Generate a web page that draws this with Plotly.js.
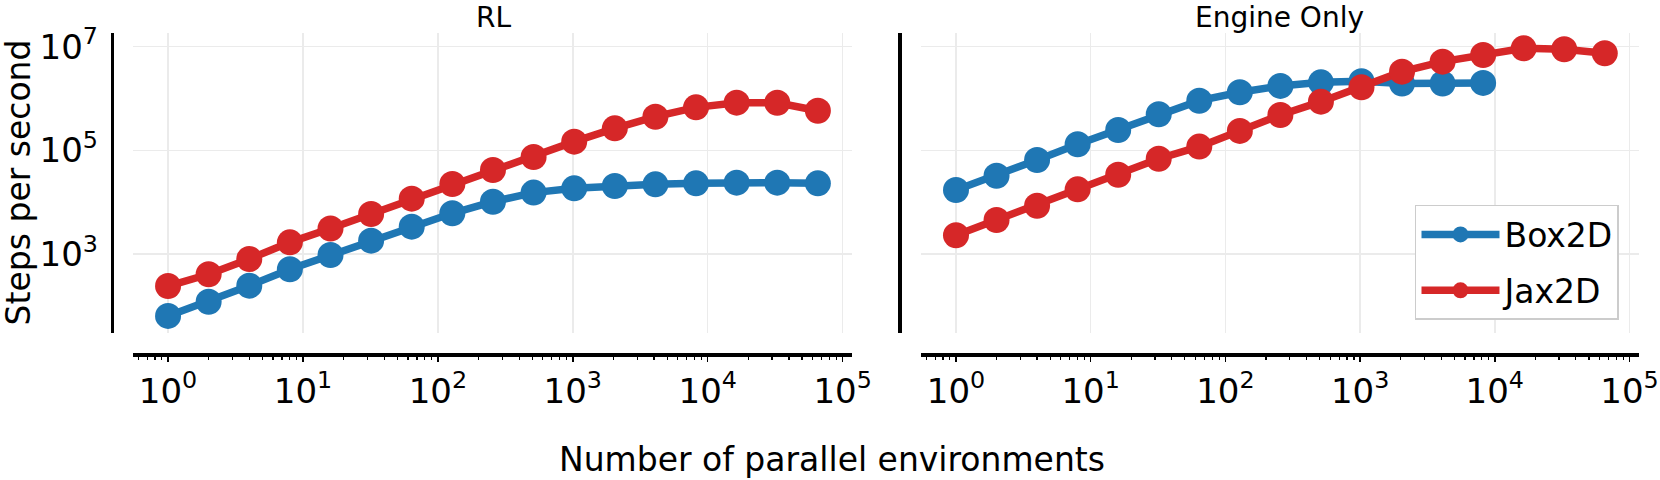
<!DOCTYPE html>
<html><head><meta charset="utf-8">
<script src="https://cdn.plot.ly/plotly-3.0.1.min.js"></script>
<style>html,body{margin:0;padding:0;background:#fff}#chart{width:1660px;height:480px}</style>
</head><body><div id="chart"></div><script>
// Number of parallel environments (powers of two)
const envs = [1,2,4,8,16,32,64,128,256,512,1024,2048,4096,8192,16384,32768,65536];
const envsBox2dEngine = [1,2,4,8,16,32,64,128,256,512,1024,2048,4096,8192];
// Steps per second
const rlBox2d = [64,120,245,507,957,1810,3370,6100,10200,15300,18500,20500,22100,23100,23800,23800,23100];
const rlJax2d = [241,406,802,1680,3100,5900,11700,22400,41800,74400,147000,266000,446000,676000,832000,830000,582000];
const engineBox2d = [17200,32400,65100,131000,247000,497000,908000,1320000,1750000,2050000,2150000,1950000,1950000,2000000];
const engineJax2d = [2300,4530,8550,17700,33900,69000,118000,237000,482000,869000,1650000,3300000,5140000,6920000,9300000,8900000,7460000];
const seriesNames = ['Box2D','Jax2D'];
const panelTitles = ['RL','Engine Only'];
const xTitle = 'Number of parallel environments';
const yTitle = 'Steps per second';
const xTickVals = [1,10,100,1000,10000,100000];
const xTickText = ['10<sup>0</sup>','10<sup>1</sup>','10<sup>2</sup>','10<sup>3</sup>','10<sup>4</sup>','10<sup>5</sup>'];
const yTickVals = [1e3,1e5,1e7];
const yTickText = ['10<sup>3</sup>','10<sup>5</sup>','10<sup>7</sup>'];

const BLUE = '#1f77b4', RED = '#d62728';
const FONT = 'DejaVu Sans, sans-serif';

function tr(x, y, name, color, xa, ya, show) {
  return {x: x, y: y, name: name, type: 'scatter', mode: 'lines+markers',
    xaxis: xa, yaxis: ya, showlegend: show, legendgroup: name,
    line: {color: color, width: 7.5}, marker: {color: color, size: 26}, cliponaxis: false};
}
const data = [
  tr(envs, rlBox2d, seriesNames[0], BLUE, 'x', 'y', false),
  tr(envs, rlJax2d, seriesNames[1], RED, 'x', 'y', false),
  tr(envsBox2dEngine, engineBox2d, seriesNames[0], BLUE, 'x2', 'y2', true),
  tr(envs, engineJax2d, seriesNames[1], RED, 'x2', 'y2', true)
];

function xax(dom) {
  return {type: 'log', domain: dom, range: [-0.26, 5.07], anchor: 'free', position: 0.261,
    showline: true, linecolor: '#000', linewidth: 4,
    ticks: 'outside', ticklen: 5, tickwidth: 1.5, tickcolor: '#000',
    tickmode: 'array', tickvals: xTickVals, ticktext: xTickText,
    tickfont: {size: 34, color: '#000', family: FONT},
    showgrid: true, gridcolor: '#ebebeb', gridwidth: 1.5, zeroline: false,
    minor: {dtick: 'D1', ticks: 'outside', ticklen: 3, tickwidth: 1.2, tickcolor: '#000', showgrid: false}};
}
function yax(pos, labels) {
  return {type: 'log', domain: [0.30625, 0.93125], range: [1.476, 7.264], anchor: 'free', position: pos,
    showline: true, linecolor: '#000', linewidth: 3.5,
    ticks: 'outside', ticklen: 6, tickcolor: 'rgba(0,0,0,0)',
    tickmode: 'array', tickvals: yTickVals, ticktext: yTickText, showticklabels: labels,
    tickfont: {size: 34, color: '#000', family: FONT},
    showgrid: true, gridcolor: '#ebebeb', gridwidth: 1.5, zeroline: false};
}

const layout = {
  width: 1660, height: 480, margin: {l: 0, r: 0, t: 0, b: 0},
  paper_bgcolor: '#fff', plot_bgcolor: '#fff',
  font: {family: FONT, color: '#000'},
  xaxis: xax([0.0801, 0.5133]),
  yaxis: yax(0.0673, true),
  xaxis2: xax([0.5548, 0.9873]),
  yaxis2: Object.assign(yax(0.5416, false), {matches: 'y'}),
  showlegend: true,
  legend: {x: 0.9753, xanchor: 'right', y: 0.573, yanchor: 'top',
    bgcolor: '#fff', bordercolor: '#cccccc', borderwidth: 1.5,
    font: {size: 33, family: FONT, color: '#000'}, itemwidth: 78},
  annotations: [
    {text: panelTitles[0], xref: 'paper', yref: 'paper', x: 0.297, y: 1, xanchor: 'center', yanchor: 'top', borderpad: 0, showarrow: false, font: {size: 28}},
    {text: panelTitles[1], xref: 'paper', yref: 'paper', x: 0.771, y: 1, xanchor: 'center', yanchor: 'top', borderpad: 0, showarrow: false, font: {size: 28}},
    {text: xTitle, xref: 'paper', yref: 'paper', x: 0.501, y: 0.0417, xanchor: 'center', yanchor: 'middle', showarrow: false, font: {size: 33}},
    {text: yTitle, xref: 'paper', yref: 'paper', x: 0, y: 0.619, xanchor: 'left', yanchor: 'middle', xshift: -3, textangle: -90, showarrow: false, font: {size: 33}}
  ]
};

Plotly.newPlot('chart', data, layout, {staticPlot: true, displayModeBar: false});
</script></body></html>
